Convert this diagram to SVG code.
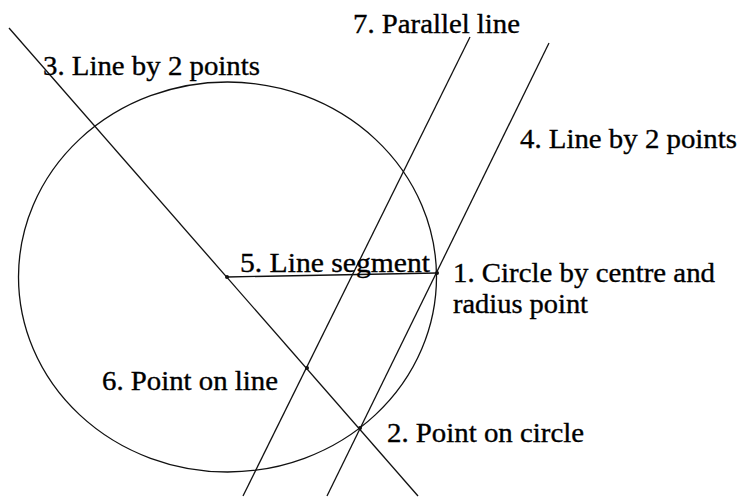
<svg xmlns="http://www.w3.org/2000/svg" width="739" height="497" viewBox="0 0 739 497">
<style>
.ln{stroke:#111;stroke-width:1.3;fill:none}
.pt{fill:#111}
.lb{font-family:"Liberation Serif","Times New Roman",serif;font-size:27px;fill:#000;stroke:#000;stroke-width:0.35}
</style>
<rect width="739" height="497" fill="#fff"/>
<g id="connectors">
<line id="line3" class="ln" x1="9" y1="28" x2="418" y2="496"/>
<line id="line4" class="ln" x1="549" y1="43" x2="327" y2="496"/>
<line id="line7" class="ln" x1="470" y1="37" x2="243" y2="496"/>
<line id="segment5" class="ln" x1="227" y1="277" x2="437" y2="273"/>
</g>
<g id="circle1"><ellipse class="ln" cx="227.5" cy="277" rx="209" ry="195"/></g>
<g id="points">
<circle class="pt" cx="227" cy="277" r="2"/>
<circle class="pt" cx="437" cy="273" r="2"/>
<circle class="pt" cx="360" cy="428" r="2"/>
<circle class="pt" cx="307" cy="368" r="2"/>
</g>
<g id="labels">
<text class="lb" x="353" y="33" textLength="167" lengthAdjust="spacingAndGlyphs">7. Parallel line</text>
<text class="lb" x="43" y="75" textLength="217" lengthAdjust="spacingAndGlyphs">3. Line by 2 points</text>
<text class="lb" x="520" y="148" textLength="217" lengthAdjust="spacingAndGlyphs">4. Line by 2 points</text>
<text class="lb" x="240" y="272" textLength="190" lengthAdjust="spacingAndGlyphs">5. Line segment</text>
<text class="lb" x="453" y="282" textLength="262" lengthAdjust="spacingAndGlyphs">1. Circle by centre and</text>
<text class="lb" x="453" y="313" textLength="135" lengthAdjust="spacingAndGlyphs">radius point</text>
<text class="lb" x="102" y="390" textLength="176" lengthAdjust="spacingAndGlyphs">6. Point on line</text>
<text class="lb" x="387" y="442" textLength="197" lengthAdjust="spacingAndGlyphs">2. Point on circle</text>
</g>
</svg>
